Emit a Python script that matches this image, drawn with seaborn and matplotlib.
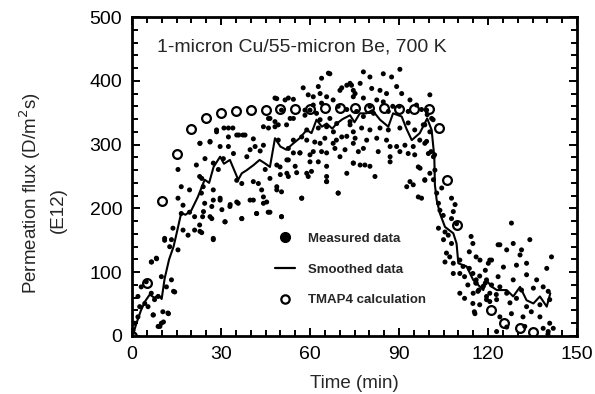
import numpy as np
import pandas as pd
import matplotlib
matplotlib.use("Agg")
import matplotlib.pyplot as plt
from matplotlib.lines import Line2D
from matplotlib.ticker import MultipleLocator
import seaborn as sns

# ---------------- data ----------------
meas_t = [15.5, 21.7, 22.8, 16.6, 19.4, 15.5, 17.2, 19.4, 21.1, 22.8, 13.8, 16.6, 18.9, 17.2, 11.0, 13.3,
          15.5, 12.7, 8.2, 6.5, 9.9, 14.4, 4.8, 3.1, 2.0, 6.5, 8.8, 7.1, 10.4, 12.1, 9.9, 8.8, 2.0, 0.9,
          0.3, 4.3, 5.4, 2.6, 7.6, 11.6, 13.3, 23.4, 24.5, 21.1, 11.0,
          33.0, 35.8, 42.0, 45.9, 50.4, 57.2, 69.5, 65.6, 31.3, 27.4, 37.0, 29.7, 24.1, 22.9, 26.3, 39.8,
          44.3, 48.8, 14.0, 9.4, 10.6, 12.3, 7.2, 6.6, 8.3,
          48.2, 46.0, 48.2, 28.5, 31.0, 32.5, 34.0, 36.0, 37.4, 26.3, 22.9, 29.7, 32.5, 40.9, 41.5, 44.3,
          39.8, 38.7, 43.2, 24.6, 27.4, 34.2, 30.8, 23.5, 29.1, 24.0, 27.4, 35.3, 37.0, 40.9, 42.6, 44.9,
          46.5, 48.8, 43.7, 27.4, 29.7, 33.1, 35.3, 40.9, 44.3, 45.4, 26.9, 30.3, 23.8, 26.9, 31.4, 37.0,
          42.0, 46.5, 23.5, 27.4,
          66.7, 63.9, 57.7, 54.4, 48.8, 51.6, 61.1, 63.4, 67.8, 70.7, 73.5, 74.6, 46.5, 49.3, 46.0, 54.4,
          58.3, 62.2, 65.6, 69.0, 72.4, 74.6, 67.8, 63.4, 58.9, 56.6, 61.1, 65.6, 70.1, 74.6, 54.4, 52.2,
          49.9, 52.2, 60.0, 58.9, 65.6, 72.4, 44.3, 32.5, 35.3, 38.1, 22.9, 26.3, 28.5, 60.0,
          66.2, 62.8, 72.4, 70.1, 65.6, 63.9, 59.4, 52.7, 61.1, 74.6, 69.5, 72.4, 50.4, 58.3, 66.7,
          63.4, 53.3, 48.2, 52.1, 58.9, 62.8, 67.9, 70.7, 73.5, 49.3, 54.4, 57.2, 61.6, 65.0, 68.9, 71.8,
          74.6, 52.7, 56.6, 60.0, 63.9, 68.4, 48.8, 52.7, 55.0, 62.8, 65.6, 60.5, 50.0, 52.7, 55.5, 59.4,
          65.6, 69.5, 50.4, 57.2, 50.4,
          90.3, 87.5, 84.7, 78.0, 80.2, 76.9, 80.8, 74.0, 75.2, 78.0, 83.6, 85.8, 89.2, 90.9, 93.7, 100.4,
          82.5, 84.7, 80.2, 87.9, 90.1, 95.9, 97.6, 75.7, 78.0, 81.4, 86.4, 93.1, 99.5, 73.5, 77.4, 80.2,
          83.6, 86.4, 90.3, 93.1, 95.3, 98.7, 101.5, 75.2, 79.1, 82.5, 85.8, 89.2, 92.0, 94.8, 97.0, 99.3,
          76.3, 78.0, 83.0, 87.0, 90.3, 93.1, 95.3, 100.8, 74.6, 76.9, 78.5, 80.2, 87.0, 87.0, 102.0,
          81.9, 92.6, 94.8, 96.5, 98.7, 100.4, 96.5, 93.7,
          99.3, 101.0, 98.2, 100.4, 98.7, 99.9, 97.1, 98.7, 97.6, 101.6, 102.1, 101.6, 102.7, 103.3, 104.4,
          103.8, 104.9, 107.7, 108.9, 108.3, 107.7, 109.4, 103.3, 105.5, 106.6, 105.0, 107.7, 114.3, 114.9,
          113.7, 116.0, 106.0, 107.1, 108.3, 105.5, 108.3, 110.5, 111.6, 110.5, 112.1, 113.7, 114.9, 110.5,
          112.1, 113.2, 116.0, 116.6, 118.4, 114.9, 115.4, 119.5, 121.2, 119.5, 120.6, 122.8, 123.4, 120.1,
          120.6,
          127.9, 134.1, 124.0, 128.5, 126.3, 131.3, 130.8, 141.4, 121.2, 125.2, 129.6, 133.0, 139.8, 123.4,
          128.5, 133.0, 136.4, 138.6, 124.0, 120.6, 131.3, 126.3, 135.3, 140.3, 119.5, 122.9, 127.4, 129.6,
          133.0, 137.5, 140.8, 115.6, 124.0, 127.9, 131.8, 134.6, 137.5, 140.8, 126.3, 132.4, 138.6, 140.3,
          122.9, 142.0, 115.0, 117.2, 115.9, 116.9, 119.1, 119.1, 117.3, 116.0, 117.2, 140.2, 0.0]
meas_y = [261, 268, 250, 234, 229, 216, 205, 194, 187, 174, 169, 192, 158, 166, 153, 151,
          135, 140, 122, 116, 93, 69, 85, 77, 62, 67, 62, 33, 38, 36, 20, 15, 30, 20,
          9, 51, 46, 46, 57, 77, 88, 224, 208, 166, 150,
          203, 208, 192, 194, 187, 216, 224, 242, 179, 153, 184, 216, 195, 164, 187, 213,
          218, 229, 70, 15, 22, 35, 33, 116, 121,
          373, 341, 336, 323, 326, 326, 326, 315, 315, 304, 302, 297, 297, 309, 297, 299,
          292, 281, 290, 278, 271, 286, 278, 247, 261, 234, 229, 244, 239, 242, 239, 261,
          247, 234, 229, 213, 213, 206, 210, 213, 208, 210, 203, 198, 187, 184, 179, 184,
          192, 194, 162, 151,
          411, 404, 389, 371, 372, 370, 375, 380, 370, 389, 396, 385, 341, 331, 326, 341,
          346, 349, 328, 333, 313, 320, 302, 302, 307, 287, 289, 287, 281, 271, 287, 276,
          265, 255, 273, 255, 250, 255, 328, 312, 315, 315, 302, 305, 320, 354,
          412, 391, 393, 385, 375, 365, 378, 373, 362, 375, 360, 355, 354, 354, 341,
          339, 341, 328, 331, 323, 326, 320, 312, 331, 307, 307, 312, 304, 310, 307, 292,
          302, 294, 287, 284, 289, 294, 268, 276, 266, 273, 266, 258, 253, 250, 256, 250,
          242, 224, 226, 216, 187,
          418, 406, 411, 414, 406, 396, 388, 393, 380, 373, 385, 380, 391, 380, 370, 378,
          370, 367, 360, 360, 360, 362, 355, 352, 344, 349, 352, 352, 347, 336, 326, 323,
          326, 323, 326, 334, 323, 331, 339, 310, 307, 310, 307, 297, 299, 297, 307, 305,
          289, 294, 289, 297, 289, 286, 284, 289, 271, 268, 268, 266, 281, 273, 284,
          250, 234, 237, 218, 245, 255, 265, 242,
          354, 341, 331, 320, 302, 286, 263, 244, 216, 281, 260, 245, 224, 208, 232,
          197, 189, 216, 206, 195, 184, 176, 169, 163, 158, 151, 145, 156, 145,
          132, 124, 130, 124, 114, 116, 98, 119, 109, 98, 93, 106, 98, 67,
          59, 80, 83, 70, 78, 51, 38, 88, 80, 62, 54, 65, 143, 114,
          119,
          177, 151, 143, 145, 135, 135, 127, 124, 119, 108, 111, 114, 106, 93,
          88, 96, 88, 77, 77, 67, 72, 67, 75, 70, 57, 57, 52, 59,
          46, 49, 57, 35, 30, 35, 30, 38, 30, 20, 14, 15, 12, 7,
          7, 12, 67, 49, 83, 72, 83, 103, 119, 88, 94, 3, 2]

smooth_t = [0.3, 1.5, 3.0, 4.5, 6.0, 7.5, 9.0, 10.0, 11.0, 12.5, 14.0, 15.0, 16.6, 18.0, 20.0, 22.2,
            24.5, 26.0, 27.5, 29.7, 31.0, 33.0, 35.8, 37.0, 38.7, 41.0, 43.0, 45.0, 46.5, 48.2, 50.0,
            52.0, 54.4, 56.5, 58.9, 60.5, 62.2, 64.0, 65.6, 67.5, 69.0, 71.0, 73.5, 75.0, 76.8, 79.0,
            81.0, 83.6, 86.4, 88.0, 90.9, 92.5, 94.3, 97.0, 99.5, 101.0, 101.9, 102.1, 102.7, 103.8,
            105.5, 108.3, 109.4, 110.0, 112.8, 115.0, 118.4, 119.5, 121.0, 123.0, 126.3, 128.5, 130.8,
            133.0, 135.3, 137.5, 139.8, 141.0]
smooth_y = [2, 20, 40, 55, 65, 60, 64, 58, 90, 120, 140, 160, 193, 190, 197, 218,
            245, 240, 265, 281, 270, 276, 245, 255, 260, 268, 276, 270, 265, 310, 297,
            292, 302, 310, 323, 318, 339, 328, 333, 325, 333, 340, 346, 335, 349, 349,
            354, 339, 328, 349, 344, 325, 307, 318, 341, 323, 281, 237, 213, 192,
            171, 161, 145, 114, 109, 88, 72, 88, 78, 72, 72, 62, 77,
            56, 51, 62, 46, 67]

tmap_t = [0, 5, 10, 15, 20, 25, 30, 35, 40, 45, 50, 55, 60, 65, 70, 75, 80, 85, 90, 95, 100,
          103.4, 106.3, 109.5, 121, 125.5, 130.8, 135.3]
tmap_y = [0, 83, 211, 285, 324, 341, 349, 353, 355, 355, 356, 356, 356, 357, 358, 358, 358, 357,
          356, 356, 356, 326, 244, 174, 40, 20, 12, 6]

x_ticks = [0, 30, 60, 90, 120, 150]
y_ticks = [0, 100, 200, 300, 400, 500]

title_text = "1-micron Cu/55-micron Be, 700 K"
legend_labels = ["Measured data", "Smoothed data", "TMAP4 calculation"]

# ---------------- plotting ----------------
sns.set_style("ticks")
plt.rcParams["font.family"] = ["Liberation Sans", "DejaVu Sans"]

meas = pd.DataFrame({"t": meas_t, "y": meas_y})
smooth = pd.DataFrame({"t": smooth_t, "y": smooth_y})
tmap = pd.DataFrame({"t": tmap_t, "y": tmap_y})

fig = plt.figure(figsize=(5.95, 3.94), dpi=100)
ax = fig.add_axes([132 / 595, 1 - 336 / 394, 445 / 595, 319 / 394])

sns.scatterplot(data=tmap, x="t", y="y", ax=ax, s=40, marker="o",
                facecolor="white", edgecolor="black", linewidth=1.6, zorder=2)
sns.lineplot(data=smooth, x="t", y="y", ax=ax, color="black", linewidth=1.5,
             sort=False, estimator=None, zorder=3)
sns.scatterplot(data=meas, x="t", y="y", ax=ax, color="black", s=13, linewidth=0,
                edgecolor="none", zorder=4)

ax.set_xlim(0, 150)
ax.set_ylim(0, 500)
ax.set_xticks(x_ticks)
ax.set_yticks(y_ticks)
ax.xaxis.set_minor_locator(MultipleLocator(5))
ax.yaxis.set_minor_locator(MultipleLocator(20))
ax.tick_params(which="both", direction="in", top=True, right=True, width=1.4, colors="black",
               labelsize=14)
ax.tick_params(which="major", length=6, pad=7)
ax.tick_params(which="minor", length=4)
for sp in ax.spines.values():
    sp.set_linewidth(2.0)
    sp.set_color("black")
    sp.set_visible(True)

ax.set_xlabel("Time (min)", fontsize=13.5, labelpad=9)
ax.set_ylabel("")
fig.text(30 / 595, 1 - 193 / 394, "Permeation flux (D/m$^2$s)", rotation=90, fontsize=13.5,
         ha="center", va="center")
fig.text(58 / 595, 1 - 210 / 394, "(E12)", rotation=90, fontsize=13.5,
         ha="center", va="center")

ax.text(0.056, 0.905, title_text, transform=ax.transAxes, fontsize=14, ha="left", va="center")

handles = [
    Line2D([], [], marker="o", color="black", linestyle="none", markersize=7),
    Line2D([], [], color="black", linewidth=1.6),
    Line2D([], [], marker="o", markerfacecolor="white", markeredgecolor="black",
           linestyle="none", markersize=6, markeredgewidth=1.6),
]
leg = ax.legend(handles, legend_labels, loc="upper left", bbox_to_anchor=(0.31, 0.34),
                frameon=False, labelspacing=1.4, handlelength=1.5,
                handletextpad=1.0, borderaxespad=0,
                prop={"weight": "bold", "size": 9.5})

fig.savefig("out.png", dpi=100)
